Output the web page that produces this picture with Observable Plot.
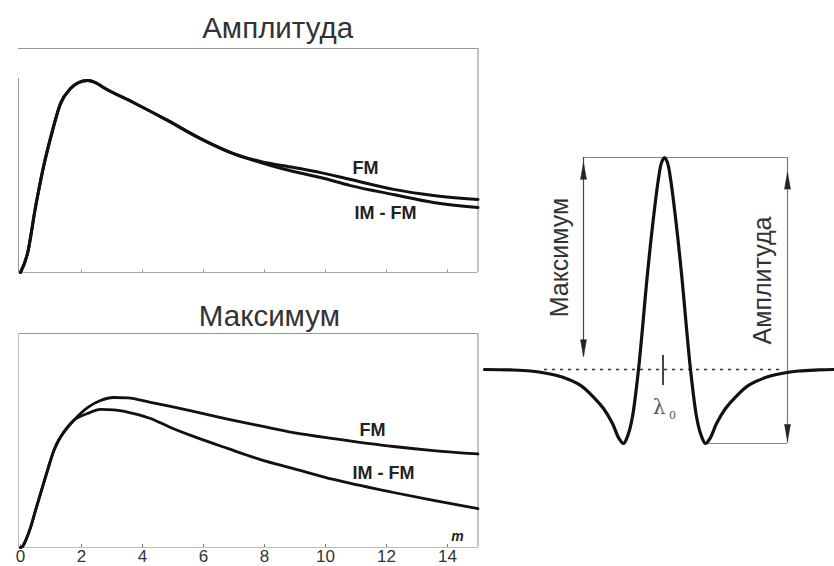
<!DOCTYPE html>
<html>
<head>
<meta charset="utf-8">
<script src="https://cdn.jsdelivr.net/npm/d3@7"></script>
<script src="https://cdn.jsdelivr.net/npm/@observablehq/plot@0.6"></script>
<style>
html, body { margin: 0; padding: 0; background: #fff; overflow: hidden; width: 834px; height: 566px; }
#wrap { position: relative; width: 834px; height: 566px; }
</style>
</head>
<body>
<div id="wrap"></div>
<script>
// ---------- Panel "Амплитуда" (top left) ----------
const ampX     = [0, 0.23, 0.49, 0.75, 1.05, 1.31, 1.64, 1.90, 2.20, 2.46, 2.72, 3.70, 4.82, 5.90, 6.98, 7.87, 8.95, 9.84, 10.82, 12.23, 13.54, 15];
const ampFM    = [0, 0.085, 0.290, 0.469, 0.634, 0.754, 0.821, 0.848, 0.857, 0.848, 0.826, 0.759, 0.679, 0.598, 0.531, 0.496, 0.469, 0.446, 0.415, 0.371, 0.344, 0.326];
const ampIMFM  = [0, 0.085, 0.290, 0.469, 0.634, 0.754, 0.821, 0.848, 0.857, 0.848, 0.826, 0.759, 0.679, 0.598, 0.531, 0.491, 0.451, 0.424, 0.388, 0.348, 0.3125, 0.290];

// ---------- Panel "Максимум" (bottom left) ----------
const maxX     = [0, 0.066, 0.197, 0.328, 0.492, 0.656, 0.885, 1.082, 1.246, 1.41, 1.738, 2.197, 2.623, 3.049, 3.508, 4.262, 4.918, 5.672, 6.787, 7.869, 8.951, 10.262, 12.23, 13.541, 15];
const maxFM    = [0, 0.005, 0.042, 0.093, 0.173, 0.252, 0.360, 0.449, 0.500, 0.537, 0.593, 0.654, 0.687, 0.701, 0.699, 0.678, 0.659, 0.636, 0.600, 0.568, 0.537, 0.509, 0.472, 0.453, 0.437];
const maxIMFM  = [0, 0.005, 0.042, 0.093, 0.173, 0.252, 0.360, 0.449, 0.500, 0.537, 0.593, 0.626, 0.645, 0.643, 0.633, 0.603, 0.561, 0.519, 0.463, 0.411, 0.369, 0.318, 0.257, 0.220, 0.182];

const xTicks = [0, 2, 4, 6, 8, 10, 12, 14];
const seriesLabels = ["FM", "IM - FM"];

// ---------- Line shape (right) ----------
const shapeX = [-18, -15.4, -13.4, -11.7, -10.1, -8.4, -7.1, -6.1, -5.2, -4.6, -4.1, -3.6, -3.2, -2.6, -1.7, -1.1, -0.6, -0.3, 0, 0.3, 0.6, 1.1, 1.7, 2.6, 3.2, 3.6, 4.1, 4.6, 5.2, 6.1, 7.1, 8.4, 10.1, 11.7, 13.4, 15.4, 17];
const shapeY = [0, -0.002, -0.007, -0.019, -0.038, -0.075, -0.13, -0.184, -0.255, -0.321, -0.349, -0.302, -0.222, 0, 0.453, 0.717, 0.901, 0.975, 1, 0.975, 0.901, 0.717, 0.453, 0, -0.222, -0.302, -0.349, -0.321, -0.255, -0.184, -0.13, -0.075, -0.038, -0.019, -0.007, -0.002, 0];

const titles = ["Амплитуда", "Максимум"];

const FONT = "'Liberation Sans', Arial, sans-serif";
const wrap = document.getElementById("wrap");

function table(xs, a, b) { return xs.map((x, i) => ({x, fm: a[i], imfm: b[i]})); }
const ampData = table(ampX, ampFM, ampIMFM);
const maxData = table(maxX, maxFM, maxIMFM);

// ---- top panel ----
const topPanel = Plot.plot({
  width: 482, height: 282,
  marginLeft: 20, marginRight: 4.5, marginTop: 48, marginBottom: 10,
  x: {domain: [0, 15], axis: null},
  y: {domain: [0, 1], axis: null},
  style: {position: "absolute", left: "0px", top: "0px", background: "transparent", overflow: "visible", fontFamily: FONT},
  marks: [
    Plot.ruleY([1], {x1: -0.07, x2: 15, stroke: "#999", strokeWidth: 1}),
    Plot.ruleX([15], {y1: 0, y2: 1, stroke: "#888", strokeWidth: 1}),
    Plot.ruleX([0], {y1: 0, y2: 0.866, stroke: "#999", strokeWidth: 1, dx: -2}),
    Plot.ruleY([0], {x1: -0.07, x2: 15, stroke: "#aaa", strokeWidth: 1}),
    Plot.ruleX(xTicks.slice(1), {y1: 0, y2: 0.012, stroke: "#999"}),
    Plot.line(ampData, {x: "x", y: "fm", curve: "monotone-x", stroke: "#111", strokeWidth: 3}),
    Plot.line(ampData, {x: "x", y: "imfm", curve: "monotone-x", stroke: "#111", strokeWidth: 3}),
    Plot.text([titles[0]], {x: 8.43, y: 1.049, text: d => d, fontSize: 29.5, fill: "#333", lineAnchor: "bottom", textAnchor: "middle"}),
    Plot.text([seriesLabels[0]], {x: 11.31, y: 0.464, text: d => d, fontSize: 18, fontWeight: "bold", fill: "#222", lineAnchor: "middle"}),
    Plot.text([seriesLabels[1]], {x: 11.97, y: 0.263, text: d => d, fontSize: 18, fontWeight: "bold", fill: "#222", lineAnchor: "middle"})
  ]
});
wrap.appendChild(topPanel);

// ---- bottom panel ----
const bottomPanel = Plot.plot({
  width: 482, height: 290,
  marginLeft: 20, marginRight: 4.5, marginTop: 48, marginBottom: 28,
  x: {domain: [0, 15], label: null},
  y: {domain: [0, 1], axis: null},
  style: {position: "absolute", left: "0px", top: "285px", background: "transparent", overflow: "visible", fontFamily: FONT},
  marks: [
    Plot.ruleY([1], {x1: -0.07, x2: 15, stroke: "#999", strokeWidth: 1}),
    Plot.ruleX([15], {y1: 0, y2: 1, stroke: "#888", strokeWidth: 1}),
    Plot.ruleX([0], {y1: 0, y2: 1, stroke: "#bbb", strokeWidth: 1, dx: -2}),
    Plot.ruleY([0], {x1: -0.07, x2: 15, stroke: "#bbb", strokeWidth: 1}),
    Plot.ruleX(xTicks, {y1: 0, y2: 0.014, stroke: "#777"}),
    Plot.axisX({ticks: xTicks, tickSize: 0, tickPadding: 2.5, fontSize: 17, fill: "#333", label: null}),
    Plot.line(maxData, {x: "x", y: "fm", curve: "monotone-x", stroke: "#111", strokeWidth: 2.8}),
    Plot.line(maxData, {x: "x", y: "imfm", curve: "monotone-x", stroke: "#111", strokeWidth: 2.8}),
    Plot.text([titles[1]], {x: 8.16, y: 1.033, text: d => d, fontSize: 29.5, fill: "#333", lineAnchor: "bottom", textAnchor: "middle"}),
    Plot.text([seriesLabels[0]], {x: 11.54, y: 0.547, text: d => d, fontSize: 18, fontWeight: "bold", fill: "#222", lineAnchor: "middle"}),
    Plot.text([seriesLabels[1]], {x: 11.9, y: 0.346, text: d => d, fontSize: 18, fontWeight: "bold", fill: "#222", lineAnchor: "middle"}),
    Plot.text(["m"], {x: 14.33, y: 0.052, text: d => d, fontSize: 14, fontWeight: "bold", fontStyle: "italic", fill: "#222", lineAnchor: "middle"})
  ]
});
wrap.appendChild(bottomPanel);

// ---- right panel: line shape ----
const shapeData = shapeX.map((x, i) => ({x, y: shapeY[i]}));
const rightPanel = Plot.plot({
  width: 354, height: 330,
  marginLeft: 0, marginRight: 0, marginTop: 0, marginBottom: 0,
  x: {domain: [-18.4, 17], axis: null},
  y: {domain: [-0.4292, 1.1274], axis: null},
  style: {position: "absolute", left: "480px", top: "130px", background: "transparent", overflow: "visible", fontFamily: FONT},
  marks: [
    Plot.ruleY([0], {x1: -12, x2: 12, stroke: "#333", strokeWidth: 1.5, strokeDasharray: "3,5"}),
    Plot.ruleY([1], {x1: -8.1, x2: 12.3, stroke: "#888", strokeWidth: 1.2}),
    Plot.ruleY([-0.349], {x1: 4.1, x2: 12.3, stroke: "#888", strokeWidth: 1.2}),
    Plot.ruleX([-8.1], {y1: 1, y2: 0.061, stroke: "#444", strokeWidth: 1.2}),
    Plot.ruleX([12.3], {y1: 1, y2: -0.349, stroke: "#777", strokeWidth: 1.2}),
    Plot.vector([{x: -8.1, y: 0.976, r: 0}, {x: -8.1, y: 0.061, r: 180}, {x: 12.3, y: 0.93, r: 0}, {x: 12.3, y: -0.338, r: 180}],
      {x: "x", y: "y", rotate: "r", length: 17, anchor: "end", shape: "spike", r: 3, fill: "#222", stroke: "#222", strokeWidth: 0.5}),
    Plot.ruleX([-0.15], {y1: 0.066, y2: -0.075, stroke: "#333", strokeWidth: 1.8}),
    Plot.line(shapeData, {x: "x", y: "y", curve: "catmull-rom", stroke: "#111", strokeWidth: 3.2}),
    Plot.text(["λ"], {x: -0.55, y: -0.18, text: d => d, fontSize: 20, fill: "#555", fontFamily: "'DejaVu Serif', serif", lineAnchor: "middle"}),
    Plot.text(["0"], {x: 0.8, y: -0.215, text: d => d, fontSize: 11, fill: "#555", fontFamily: "'DejaVu Serif', serif", lineAnchor: "middle"}),
    Plot.text([titles[1]], {x: -10.5, y: 0.528, text: d => d, fontSize: 25, fill: "#333", rotate: -90, lineAnchor: "middle", textAnchor: "middle"}),
    Plot.text([titles[0]], {x: 9.8, y: 0.42, text: d => d, fontSize: 25, fill: "#333", rotate: -90, lineAnchor: "middle", textAnchor: "middle"})
  ]
});
wrap.appendChild(rightPanel);
</script>
</body>
</html>
